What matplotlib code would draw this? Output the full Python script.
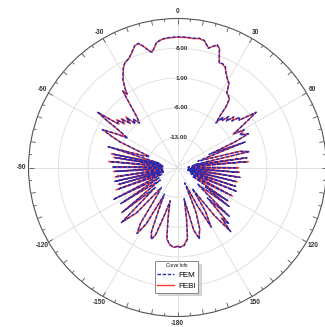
import numpy as np
import matplotlib.pyplot as plt

# scan angle (deg, 0 = top, clockwise) and gain (dB)
ang = [-180, -177, -174, -171.5, -169.5, -167.5, -165, -162, -160, -158,
       -156, -154, -151, -148.5, -146.5, -144, -141, -138, -134.5, -132,
       -129, -126, -122.5, -119.5, -116.5, -113.5, -110, -108, -106, -104.5,
       -102.5, -100.5, -98.5, -96.5, -93.6, -91.5, -89.5, -87.5, -85, -83,
       -81, -79.8, -78.3, -76.5, -73.3, -71, -68.5, -66, -64.5, -63.2,
       -61.5, -59.5, -57.5, -56.3, -55.3, -54.5, -53.5, -51.8, -50.5, -49,
       -47, -45.6, -44, -42.5, -40.5,
       -39.5, -38.8, -37.5, -36.3, -35.5, -34.5, -33.5, -32, -30.6, -28.5,
       -26.6, -24, -21.5, -19.3, -17.5, -15.5, -13.5, -12.3, -11, -9.5,
       -7, -4, 0, 3.9, 7, 9.6, 12, 13.5, 14.5, 16,
       18, 19.5, 20.8, 21.8, 23.5, 25.5, 27, 29, 31.5, 32.5,
       33.5, 35.2, 37.2, 38.6, 39.5,
       40.8, 42, 43.5, 45, 46.5, 48, 49.5, 51, 52.5, 53.8,
       54.9, 56, 57.5, 59, 60.5, 62.5, 64.5, 66, 67.5, 69.3,
       71, 73, 75.5, 77.5, 79, 80.5, 82, 83.5, 85.2, 87,
       88.5, 90.2, 92, 94.5, 96.5, 99, 101, 103.5, 105.5, 108,
       110, 112, 114.5, 117.5, 120.5, 123.5, 125, 127, 129.5, 131.5,
       133.3, 135.5, 137.6, 139, 140.3, 142.5, 145, 147.5, 150.5, 152.5,
       155, 157.5, 160, 163, 165.5, 168, 170, 172, 175, 178,
       180]

fem = [-1.4, -1.3, -1.8, -3.2, -8.0, -12.0, -9.0, -3.5, -2.0, -3.5,
       -9.5, -13.0, -5.0, -1.8, -4.0, -12.0, -14.0, -6.0, -1.5, -13.0,
       -3.4, -15.0, -4.2, -15.0, -3.1, -16.0, -5.0, -16.5, -5.8, -16.5,
       -4.9, -16.5, -5.6, -16.5, -5.3, -16.5, -4.6, -16.5, -4.1, -16.5,
       -5.2, -16.0, -4.5, -15.5, -3.0, -12.0, -13.0, -5.0, -2.5, -0.2,
       -3.0, -6.5, -3.5, 0.0, 3.0, -0.8, -2.6, -2.1, -3.6, -2.8,
       -4.6, -3.3, -5.8, -4.5, -6.3,
       -5.5, -4.7, -2.4, 0.0, 2.0, 1.0, 2.5, 4.2, 5.2, 6.7,
       7.6, 8.0, 9.2, 10.4, 10.6, 9.5, 8.0, 7.7, 8.7, 9.8,
       10.4, 10.6, 10.7, 10.7, 10.6, 10.8, 10.5, 9.5, 8.9, 9.6,
       10.3, 9.5, 7.5, 6.4, 6.6, 6.2, 5.0, 4.0, 3.2, 2.0,
       0.9, 0.8, 0.0, -1.8, -4.6,
       -6.2, -4.0, -5.0, -3.0, -4.2, -2.2, -3.2, -1.2, -1.8, 0.5,
       2.6, 0.2, -2.5, -4.5, -2.0, -3.5, -1.5, -5.5, -12.0, -3.0,
       -13.0, -15.0, -5.0, -2.6, -14.0, -16.0, -3.5, -16.5, -3.6, -17.0,
       -17.5, -6.0, -17.5, -5.7, -17.5, -5.1, -17.5, -6.0, -17.5, -5.6,
       -17.0, -4.9, -16.5, -5.8, -16.0, -6.0, -12.0, -4.8, -14.0, -12.0,
       -3.3, -10.0, -2.0, -4.0, -0.4, -6.0, -14.0, -8.0, -3.9, -10.0,
       -16.0, -9.0, -5.0, -2.4, -5.0, -12.5, -8.0, -3.0, -1.6, -1.3,
       -1.4]

febi = [-1.5, -1.2, -1.9, -3.0, -7.5, -11.5, -8.6, -3.3, -2.2, -3.7,
        -9.0, -12.5, -4.6, -2.0, -4.3, -11.5, -13.5, -5.6, -1.8, -12.5,
        -3.1, -14.5, -4.5, -14.6, -3.4, -15.5, -4.6, -16.0, -5.5, -16.5,
        -5.2, -16.2, -5.2, -16.4, -5.0, -16.0, -4.9, -16.6, -3.8, -16.0,
        -4.8, -15.8, -4.2, -15.0, -3.3, -11.5, -12.4, -5.3, -2.8, -0.5,
        -3.3, -6.0, -3.2, 0.2, 2.7, -0.5, -2.9, -1.8, -3.9, -2.5,
        -4.9, -3.0, -5.5, -4.8, -6.0,
        -5.2, -4.9, -2.6, 0.3, 2.2, 0.8, 2.3, 4.0, 5.0, 6.6,
        7.5, 8.1, 9.1, 10.3, 10.5, 9.4, 8.2, 7.9, 8.6, 9.7,
        10.3, 10.5, 10.6, 10.6, 10.5, 10.7, 10.4, 9.6, 9.0, 9.5,
        10.2, 9.6, 7.7, 6.5, 6.5, 6.0, 5.1, 4.1, 3.0, 2.1,
        1.1, 0.6, 0.2, -1.6, -4.3,
        -5.8, -4.3, -4.7, -3.3, -3.9, -2.5, -2.9, -1.5, -1.6, 0.2,
        2.3, 0.5, -2.2, -4.8, -2.3, -3.2, -1.8, -5.0, -11.0, -3.3,
        -12.0, -14.0, -4.6, -2.9, -13.0, -15.0, -3.8, -15.5, -3.3, -16.0,
        -16.5, -5.6, -16.5, -5.4, -16.5, -5.4, -16.5, -5.6, -16.5, -5.9,
        -16.0, -5.2, -15.5, -5.4, -15.0, -5.7, -11.0, -5.1, -13.0, -11.0,
        -3.6, -9.5, -2.3, -4.3, -0.7, -5.6, -13.0, -7.5, -4.2, -9.5,
        -15.0, -8.5, -4.6, -2.7, -4.6, -12.0, -7.5, -3.3, -1.8, -1.2,
        -1.5]

ring_vals = [-13, -6, 1, 8]
ring_labels = ['-13.00', '-6.00', '1.00', '8.00']
theta_ticks = [0, 30, 60, 90, 120, 150, 180, 210, 240, 270, 300, 330]
# the 90 label falls outside the canvas, so only these are written
label_ticks = [0, 30, 60, 120, 150, 180, 210, 240, 270, 300, 330]
label_text = ['0', '30', '60', '120', '150', '-180', '-150', '-120', '-90', '-60', '-30']

rmin, rmax = -20, 15
px = (rmax - rmin) / 149.0   # dB per pixel of radius

fig = plt.figure(figsize=(3.25, 3.27), dpi=100)
ax = fig.add_axes([28.5 / 325, (327 - 167.5 - 149) / 327, 298 / 325, 298 / 327],
                  projection='polar')
ax.set_theta_zero_location('N')
ax.set_theta_direction(-1)
ax.set_rlim(rmin, rmax)

th = np.deg2rad(ang)
l2, = ax.plot(th, febi, color='#ff3a2a', lw=1.0, zorder=3)
l1, = ax.plot(th, fem, color='#2b2bb0', lw=1.0, ls=(0, (2.5, 1.2)), zorder=4)

# grid
ax.set_xticks(np.deg2rad(theta_ticks))
ax.set_xticklabels([])
ax.tick_params(axis='x', length=0)
ax.set_yticks(ring_vals)
ax.set_yticklabels([])
ax.grid(True, color='#dcdcdc', lw=0.6)
ax.spines['polar'].set_color('#555555')
ax.spines['polar'].set_linewidth(0.8)

# inward ticks on the rim
minor = np.arange(0, 360, 5)
long_t = minor[minor % 10 == 0]
short_t = minor[minor % 10 != 0]
ax.vlines(np.deg2rad(long_t), rmax - 5 * px, rmax, color='#555555', lw=0.6, zorder=2)
ax.vlines(np.deg2rad(short_t), rmax - 3 * px, rmax, color='#555555', lw=0.6, zorder=2)

for v, s in zip(ring_vals, ring_labels):
    ax.annotate(s, xy=(0, v), xytext=(7.5, 0), textcoords='offset points',
                ha='right', va='center', fontsize=4.5, fontweight='bold',
                family='Liberation Sans', color='#333333', zorder=5)

r_lab = rmin + 156 * px
for t, s in zip(label_ticks, label_text):
    ax.text(np.deg2rad(t), r_lab, s, ha='center', va='center', fontsize=4.7,
            fontweight='bold', family='Liberation Sans', color='#333333',
            clip_on=False)

leg = ax.legend([l1, l2], ['FEM', 'FEBI'], title='Curve Info',
                loc='upper left', bbox_to_anchor=(151 / 325, 1 - 257 / 327),
                bbox_transform=fig.transFigure,
                title_fontproperties={'size': 3.3, 'style': 'italic', 'family': 'Liberation Sans'},
                prop={'family': 'Liberation Sans', 'size': 5.8},
                fancybox=False, shadow={'color': '#b0b0b0'}, edgecolor='#777777',
                handlelength=2.0, handletextpad=0.6, borderpad=0.3,
                labelspacing=0.4, framealpha=1)
leg.get_frame().set_linewidth(0.6)

fig.savefig('out.png', dpi=100)
